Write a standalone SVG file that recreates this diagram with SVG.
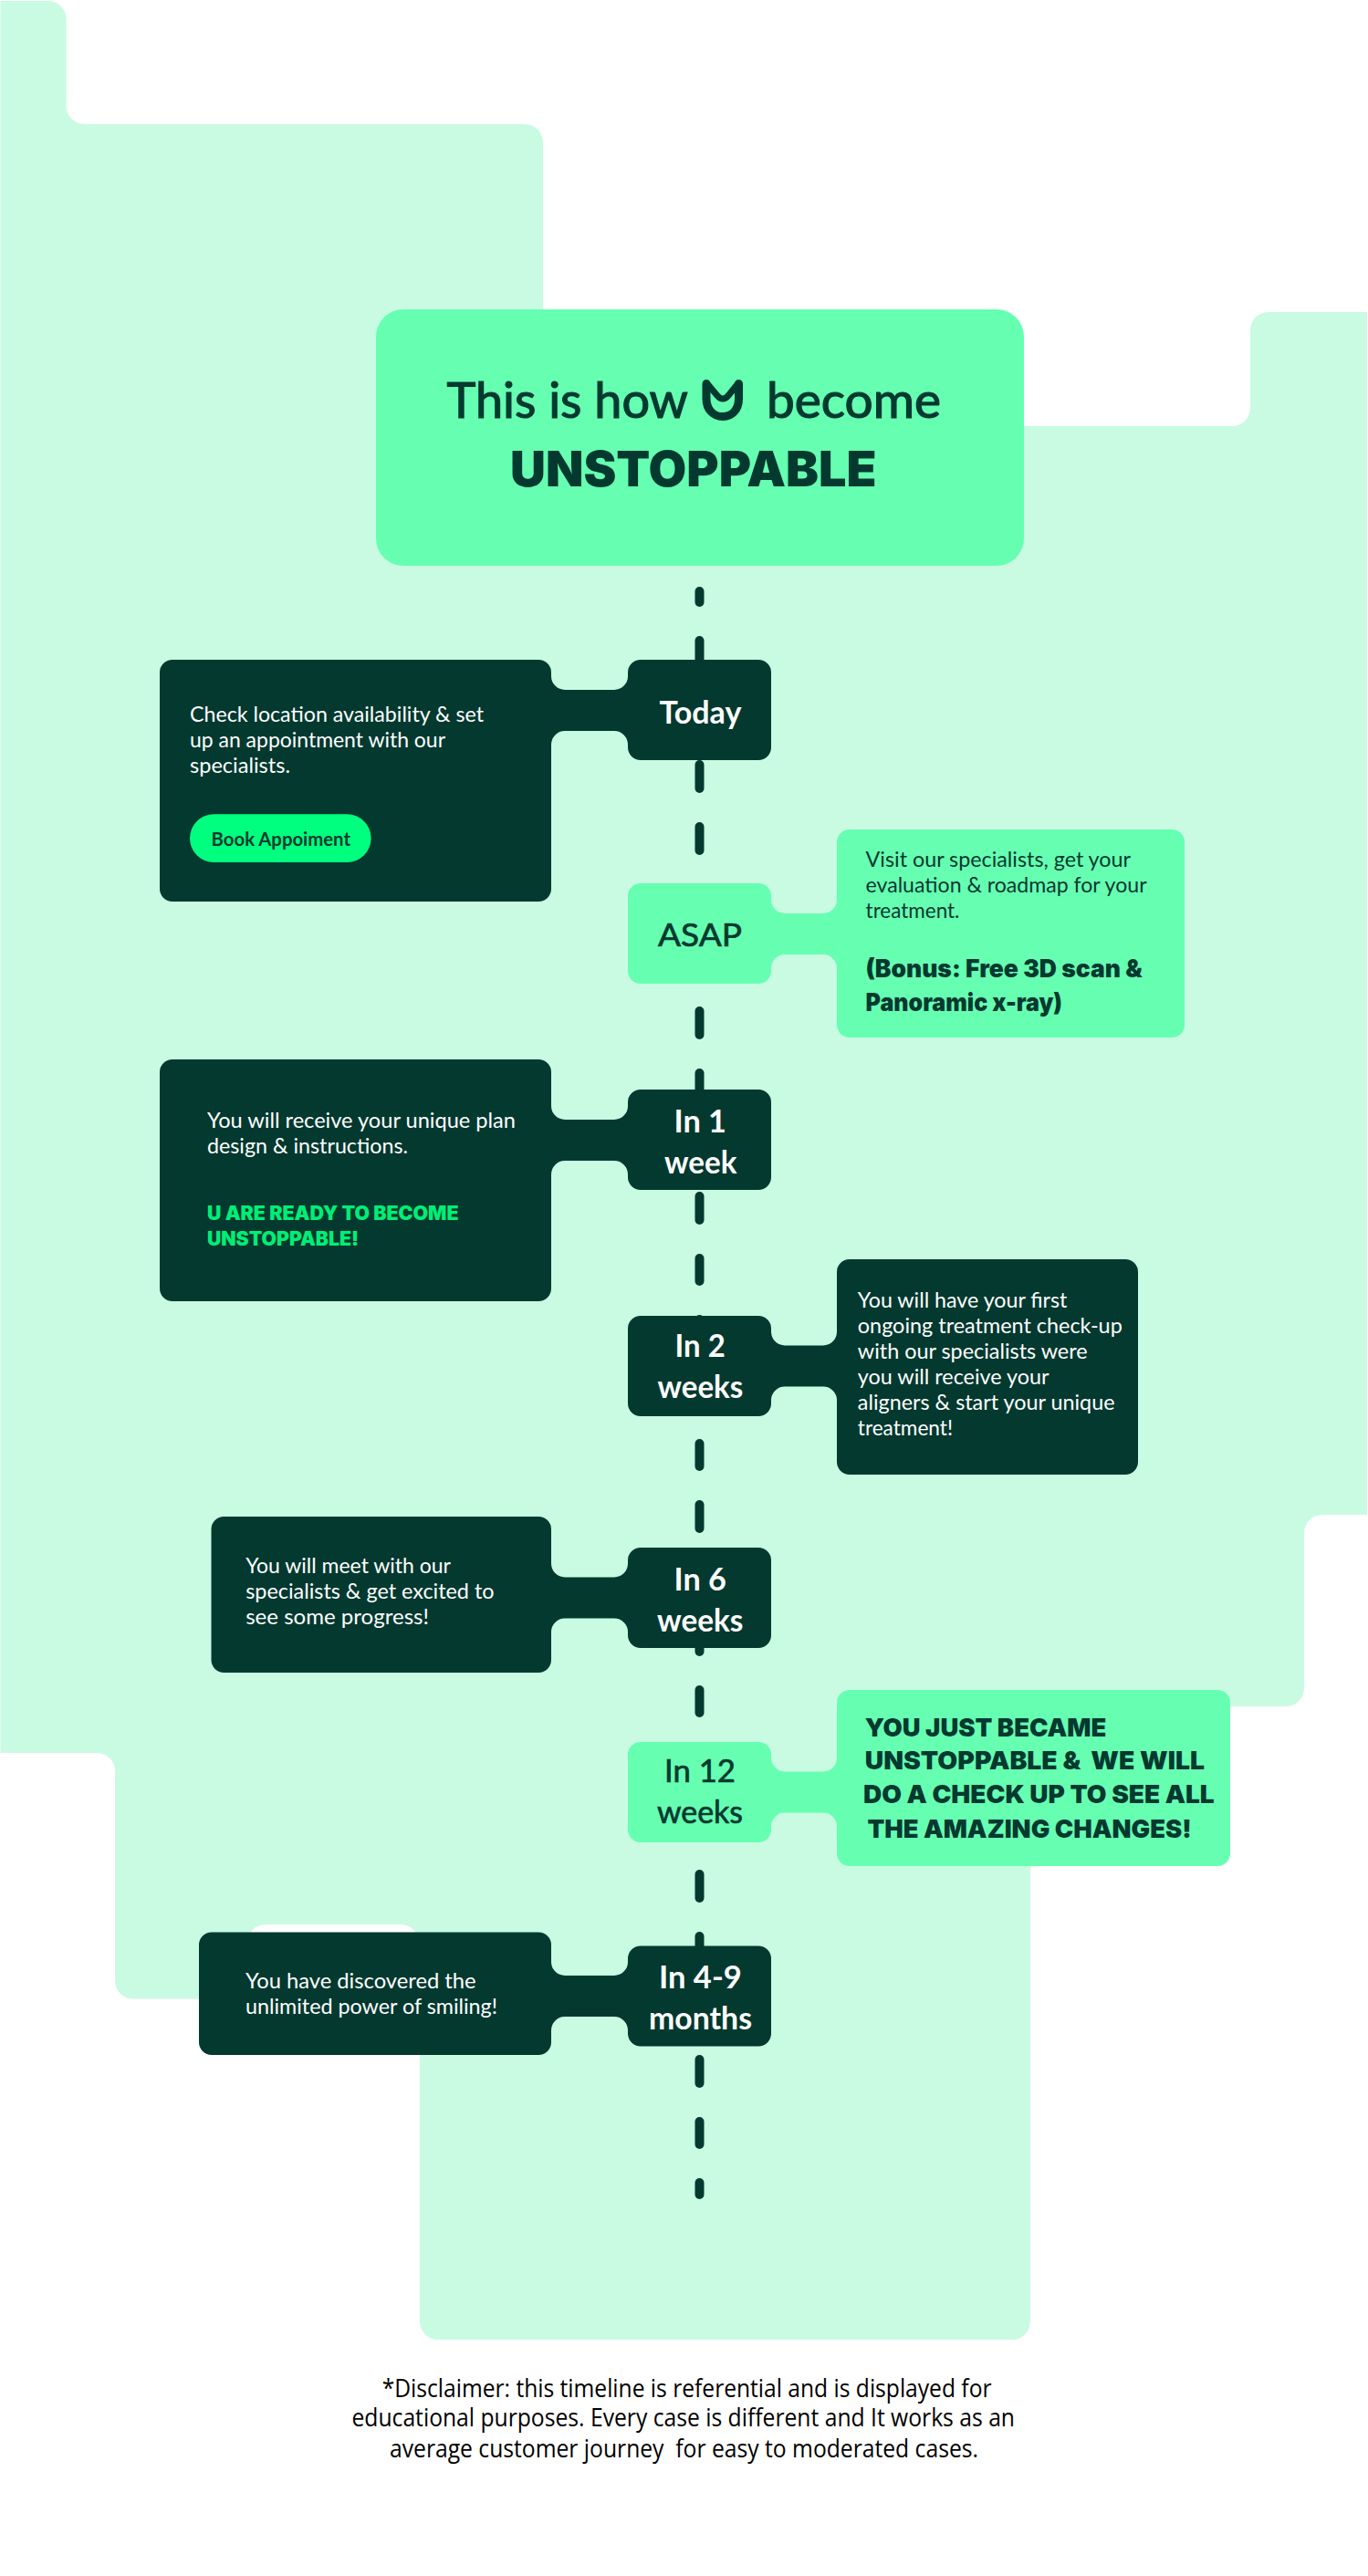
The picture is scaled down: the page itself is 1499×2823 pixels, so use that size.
<svg xmlns="http://www.w3.org/2000/svg" width="1499" height="2823" viewBox="0 0 1499 2823">
<style>
text{font-family:"Lato","Liberation Sans",sans-serif;white-space:pre}
.dark{fill:#03392f}.light{fill:#66ffb2}.bg{fill:#c9fbe3}
.w{fill:#fff}.d{fill:#03392f}
.body{font-size:23px;font-weight:400}
.badge{font-size:35px;font-weight:700}
.badgel{font-size:35px;font-weight:400;stroke:#03392f;stroke-width:.7px}
.title{font-size:54px;font-weight:400;stroke:#03392f;stroke-width:1.2px}
.blk{font-family:"Inter","Liberation Sans",sans-serif;font-weight:900}
.note{font-family:"Open Sans","Liberation Sans",sans-serif;font-size:27px;fill:#000}
#dashes line{stroke:#03392f;stroke-width:10;stroke-linecap:round}
</style>
<g id="background">
<path class="bg" d="M0.5,1 H52 A20,20 0 0 1 72.6,21 V116 A20,20 0 0 0 92.6,136 H575 A20,20 0 0 1 595,156 V467 H1350 A20,20 0 0 0 1370,447 V362 A20,20 0 0 1 1390,342 H1498 V1660 H1449 A20,20 0 0 0 1429,1680 V1850 A20,20 0 0 1 1409,1870 H1129 V2544 A20,20 0 0 1 1109,2564 H480 A20,20 0 0 1 460,2544 V2190.5 H146 A20,20 0 0 1 126,2170.5 V1941 A20,20 0 0 0 106,1921 H0.5 Z"/>
<path fill="#fff" d="M271,2191 V2129 A20,20 0 0 1 291,2109 H439 A20,20 0 0 1 459,2129 V2191 Z"/>
</g>
<g id="dashes">
<line x1="766.5" y1="648" x2="766.5" y2="660"/>
<line x1="766.5" y1="702" x2="766.5" y2="728"/>
<line x1="766.5" y1="838" x2="766.5" y2="864"/>
<line x1="766.5" y1="906" x2="766.5" y2="932"/>
<line x1="766.5" y1="1108" x2="766.5" y2="1134"/>
<line x1="766.5" y1="1176" x2="766.5" y2="1202"/>
<line x1="766.5" y1="1311" x2="766.5" y2="1337"/>
<line x1="766.5" y1="1379" x2="766.5" y2="1404"/>
<line x1="766.5" y1="1446" x2="766.5" y2="1472"/>
<line x1="766.5" y1="1582" x2="766.5" y2="1607"/>
<line x1="766.5" y1="1649" x2="766.5" y2="1675"/>
<line x1="766.5" y1="1785" x2="766.5" y2="1810"/>
<line x1="766.5" y1="1852" x2="766.5" y2="1877"/>
<line x1="766.5" y1="2054" x2="766.5" y2="2080"/>
<line x1="766.5" y1="2122" x2="766.5" y2="2148"/>
<line x1="766.5" y1="2257" x2="766.5" y2="2283"/>
<line x1="766.5" y1="2325" x2="766.5" y2="2350"/>
<line x1="766.5" y1="2392" x2="766.5" y2="2405"/>
</g>
<g id="header">
<rect class="light" x="412" y="339" width="710" height="281" rx="30" ry="30"/>
<text class="d title" x="489.5" y="457.7" textLength="264.5" lengthAdjust="spacingAndGlyphs">This is how</text>
<path fill="none" stroke="#03392f" stroke-width="9" stroke-linecap="round" stroke-linejoin="round" d="M774,420.500 V437 C774,449 782,456.500 792,456.500 C802,456.500 809.500,449 809.500,437 V420.500"/>
<path fill="none" stroke="#03392f" stroke-width="7" stroke-linecap="round" stroke-linejoin="round" d="M775,420.500 L785.500,433 Q792,441 798.500,433 L808.500,420.500"/>
<text class="d title" x="840" y="457.7" textLength="191" lengthAdjust="spacingAndGlyphs">become</text>
<text class="d blk" x="559" y="532.7" font-size="54" textLength="401.6" lengthAdjust="spacingAndGlyphs">UNSTOPPABLE</text>
</g>
<g id="today">
<path class="dark" d="M189,723 H590 A14,14 0 0 1 604,737 V741 A15,15 0 0 0 619,756 H673 A15,15 0 0 0 688,741 V737 A14,14 0 0 1 702,723 H831 A14,14 0 0 1 845,737 V819 A14,14 0 0 1 831,833 H702 A14,14 0 0 1 688,819 V816 A15,15 0 0 0 673,801 H619 A15,15 0 0 0 604,816 V974 A14,14 0 0 1 590,988 H189 A14,14 0 0 1 175,974 V737 A14,14 0 0 1 189,723Z"/>
<text class="w body" x="208" y="791" textLength="322" lengthAdjust="spacingAndGlyphs">Check location availability &amp; set</text>
<text class="w body" x="208" y="819.3" textLength="280" lengthAdjust="spacingAndGlyphs">up an appointment with our</text>
<text class="w body" x="208" y="847.3" textLength="110" lengthAdjust="spacingAndGlyphs">specialists.</text>
<rect x="208" y="892.3" width="198.6" height="52.7" rx="26.3" fill="#00ff7f"/>
<text class="d" x="231.6" y="926.7" font-size="20" font-weight="700" textLength="152.4" lengthAdjust="spacingAndGlyphs">Book Appoiment</text>
<text class="w badge" x="722.4" y="792.500" textLength="90" lengthAdjust="spacingAndGlyphs">Today</text>
</g>
<g id="asap">
<path class="light" d="M702,968 H831 A14,14 0 0 1 845,982 V986 A15,15 0 0 0 860,1001 H902 A15,15 0 0 0 917,986 V923 A14,14 0 0 1 931,909 H1284 A14,14 0 0 1 1298,923 V1123 A14,14 0 0 1 1284,1137 H931 A14,14 0 0 1 917,1123 V1061 A15,15 0 0 0 902,1046 H860 A15,15 0 0 0 845,1061 V1064 A14,14 0 0 1 831,1078 H702 A14,14 0 0 1 688,1064 V982 A14,14 0 0 1 702,968Z"/>
<text class="d badgel" x="721" y="1036.7" textLength="92" lengthAdjust="spacingAndGlyphs">ASAP</text>
<text class="d body" x="948.6" y="950" textLength="290.4" lengthAdjust="spacingAndGlyphs">Visit our specialists, get your</text>
<text class="d body" x="948.6" y="978" textLength="308" lengthAdjust="spacingAndGlyphs">evaluation &amp; roadmap for your</text>
<text class="d body" x="948.6" y="1006" textLength="102.8" lengthAdjust="spacingAndGlyphs">treatment.</text>
<text class="d blk" x="948.6" y="1071" font-size="27" textLength="303" lengthAdjust="spacingAndGlyphs">(Bonus: Free 3D scan &amp;</text>
<text class="d blk" x="948.6" y="1108" font-size="27" textLength="215.4" lengthAdjust="spacingAndGlyphs">Panoramic x-ray)</text>
</g>
<g id="in-1-week">
<path class="dark" d="M189,1161 H590 A14,14 0 0 1 604,1175 V1212 A15,15 0 0 0 619,1227 H673 A15,15 0 0 0 688,1212 V1208 A14,14 0 0 1 702,1194 H831 A14,14 0 0 1 845,1208 V1290 A14,14 0 0 1 831,1304 H702 A14,14 0 0 1 688,1290 V1287 A15,15 0 0 0 673,1272 H619 A15,15 0 0 0 604,1287 V1412 A14,14 0 0 1 590,1426 H189 A14,14 0 0 1 175,1412 V1175 A14,14 0 0 1 189,1161Z"/>
<text class="w body" x="227" y="1236" textLength="338" lengthAdjust="spacingAndGlyphs">You will receive your unique plan</text>
<text class="w body" x="227" y="1264" textLength="220" lengthAdjust="spacingAndGlyphs">design &amp; instructions.</text>
<text class="blk" fill="#00ee77" x="227" y="1336.7" font-size="21" textLength="275.5" lengthAdjust="spacingAndGlyphs">U ARE READY TO BECOME</text>
<text class="blk" fill="#00ee77" x="227" y="1365" font-size="21" textLength="166" lengthAdjust="spacingAndGlyphs">UNSTOPPABLE!</text>
<text class="w badge" x="738.5" y="1240.500" textLength="57.5" lengthAdjust="spacingAndGlyphs">In 1</text>
<text class="w badge" x="728" y="1285.8" textLength="79.4" lengthAdjust="spacingAndGlyphs">week</text>
</g>
<g id="in-2-weeks">
<path class="dark" d="M702,1442 H831 A14,14 0 0 1 845,1456 V1459.500 A15,15 0 0 0 860,1474.500 H902 A15,15 0 0 0 917,1459.500 V1394 A14,14 0 0 1 931,1380 H1233 A14,14 0 0 1 1247,1394 V1602 A14,14 0 0 1 1233,1616 H931 A14,14 0 0 1 917,1602 V1534.500 A15,15 0 0 0 902,1519.500 H860 A15,15 0 0 0 845,1534.500 V1538 A14,14 0 0 1 831,1552 H702 A14,14 0 0 1 688,1538 V1456 A14,14 0 0 1 702,1442Z"/>
<text class="w badge" x="739.6" y="1486.500" textLength="55.2" lengthAdjust="spacingAndGlyphs">In 2</text>
<text class="w badge" x="720.5" y="1531.8" textLength="93.8" lengthAdjust="spacingAndGlyphs">weeks</text>
<text class="w body" x="939.8" y="1433.3" textLength="229.6" lengthAdjust="spacingAndGlyphs">You will have your first</text>
<text class="w body" x="939.8" y="1461.3" textLength="290" lengthAdjust="spacingAndGlyphs">ongoing treatment check-up</text>
<text class="w body" x="939.8" y="1489.3" textLength="251.8" lengthAdjust="spacingAndGlyphs">with our specialists were</text>
<text class="w body" x="939.8" y="1517.3" textLength="209.7" lengthAdjust="spacingAndGlyphs">you will receive your</text>
<text class="w body" x="939.8" y="1545.3" textLength="281.7" lengthAdjust="spacingAndGlyphs">aligners &amp; start your unique</text>
<text class="w body" x="939.8" y="1573.3" textLength="104.2" lengthAdjust="spacingAndGlyphs">treatment!</text>
</g>
<g id="in-6-weeks">
<path class="dark" d="M245.500,1662 H590 A14,14 0 0 1 604,1676 V1713.500 A15,15 0 0 0 619,1728.500 H673 A15,15 0 0 0 688,1713.500 V1710 A14,14 0 0 1 702,1696 H831 A14,14 0 0 1 845,1710 V1792 A14,14 0 0 1 831,1806 H702 A14,14 0 0 1 688,1792 V1788.500 A15,15 0 0 0 673,1773.500 H619 A15,15 0 0 0 604,1788.500 V1819 A14,14 0 0 1 590,1833 H245.500 A14,14 0 0 1 231.500,1819 V1676 A14,14 0 0 1 245.500,1662Z"/>
<text class="w body" x="269.2" y="1724" textLength="224.8" lengthAdjust="spacingAndGlyphs">You will meet with our</text>
<text class="w body" x="269.2" y="1752" textLength="272.3" lengthAdjust="spacingAndGlyphs">specialists &amp; get excited to</text>
<text class="w body" x="269.2" y="1780" textLength="200.8" lengthAdjust="spacingAndGlyphs">see some progress!</text>
<text class="w badge" x="738.5" y="1742.500" textLength="57.3" lengthAdjust="spacingAndGlyphs">In 6</text>
<text class="w badge" x="720" y="1787.8" textLength="94.3" lengthAdjust="spacingAndGlyphs">weeks</text>
</g>
<g id="in-12-weeks">
<path class="light" d="M702,1909 H831 A14,14 0 0 1 845,1923 V1926.500 A15,15 0 0 0 860,1941.500 H902 A15,15 0 0 0 917,1926.500 V1866 A14,14 0 0 1 931,1852 H1334 A14,14 0 0 1 1348,1866 V2031 A14,14 0 0 1 1334,2045 H931 A14,14 0 0 1 917,2031 V2001.500 A15,15 0 0 0 902,1986.500 H860 A15,15 0 0 0 845,2001.500 V2005 A14,14 0 0 1 831,2019 H702 A14,14 0 0 1 688,2005 V1923 A14,14 0 0 1 702,1909Z"/>
<text class="d badgel" x="728" y="1952.7" textLength="78" lengthAdjust="spacingAndGlyphs">In 12</text>
<text class="d badgel" x="720" y="1997.8" textLength="94" lengthAdjust="spacingAndGlyphs">weeks</text>
<text class="d blk" x="947.7" y="1903.3" font-size="27.5" textLength="264.7" lengthAdjust="spacingAndGlyphs">YOU JUST BECAME</text>
<text class="d blk" x="947.7" y="1939.3" font-size="27.5" textLength="372.3" lengthAdjust="spacingAndGlyphs">UNSTOPPABLE &amp;  WE WILL</text>
<text class="d blk" x="946" y="1976.3" font-size="27.5" textLength="384.7" lengthAdjust="spacingAndGlyphs">DO A CHECK UP TO SEE ALL</text>
<text class="d blk" x="950.4" y="2014" font-size="27.5" textLength="355.3" lengthAdjust="spacingAndGlyphs">THE AMAZING CHANGES!</text>
</g>
<g id="in-4-9-months">
<path class="dark" d="M232,2117.500 H590 A14,14 0 0 1 604,2131.500 V2150 A15,15 0 0 0 619,2165 H673 A15,15 0 0 0 688,2150 V2146.500 A14,14 0 0 1 702,2132.500 H831 A14,14 0 0 1 845,2146.500 V2228.500 A14,14 0 0 1 831,2242.500 H702 A14,14 0 0 1 688,2228.500 V2225 A15,15 0 0 0 673,2210 H619 A15,15 0 0 0 604,2225 V2238 A14,14 0 0 1 590,2252 H232 A14,14 0 0 1 218,2238 V2131.500 A14,14 0 0 1 232,2117.500Z"/>
<text class="w body" x="269" y="2178.7" textLength="252.6" lengthAdjust="spacingAndGlyphs">You have discovered the</text>
<text class="w body" x="269" y="2206.7" textLength="276" lengthAdjust="spacingAndGlyphs">unlimited power of smiling!</text>
<text class="w badge" x="722" y="2178.500" textLength="90.8" lengthAdjust="spacingAndGlyphs">In 4-9</text>
<text class="w badge" x="711" y="2223.8" textLength="113" lengthAdjust="spacingAndGlyphs">months</text>
</g>
<g id="disclaimer">
<text class="note" x="418.7" y="2626.7" textLength="667.8" lengthAdjust="spacingAndGlyphs">*Disclaimer: this timeline is referential and is displayed for</text>
<text class="note" x="385.5" y="2659.3" textLength="726.5" lengthAdjust="spacingAndGlyphs">educational purposes. Every case is different and It works as an</text>
<text class="note" x="427" y="2693.3" textLength="645" lengthAdjust="spacingAndGlyphs">average customer journey  for easy to moderated cases.</text>
</g>
</svg>
